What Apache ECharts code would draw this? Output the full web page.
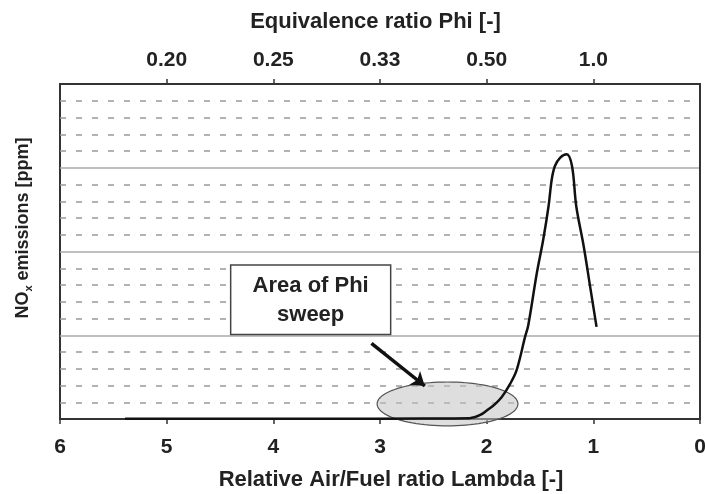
<!DOCTYPE html>
<html>
<head>
<meta charset="utf-8">
<script src="https://cdn.jsdelivr.net/npm/echarts@6/dist/echarts.min.js"></script>
<style>html,body{margin:0;padding:0;background:#fff}#c{width:705px;height:494px}</style>
</head>
<body>
<div id="c"></div>
<script>
// Data
const lambdaVals = [5.39, 4.5, 3.5, 2.6, 2.16, 2.06, 1.98, 1.93, 1.86, 1.78, 1.72, 1.64, 1.61, 1.53, 1.47, 1.42, 1.39, 1.36, 1.31, 1.25, 1.20, 1.16, 1.09, 1.03, 0.97];
const noxVals    = [0.02, 0.02, 0.02, 0.03, 0.05, 0.24, 0.6, 0.84, 1.3, 2.1, 2.9, 4.9, 5.6, 8.7, 10.7, 12.7, 14.3, 15.1, 15.6, 15.8, 15.1, 12.7, 10.3, 7.9, 5.5];
const lambdaTicks = [6, 5, 4, 3, 2, 1, 0];
const phiTickPos = [5, 4, 3, 2, 1];
const phiTickLabels = ['0.20', '0.25', '0.33', '0.50', '1.0'];
// Annotations (data units)
const sweepEllipse = [2.367, 0.9, 0.66, 1.31];      // center lambda, center y, radius lambda, radius y
const sweepArrow = [[3.08, 4.52], [2.58, 1.97]];
const noteBox = [4.40, 9.19, 2.90, 5.05];           // lambda left, y top, lambda right, y bottom
const noteText = 'Area of Phi\nsweep';

const FONT = 'Liberation Sans, Arial, sans-serif';
const chart = echarts.init(document.getElementById('c'));

const curve = lambdaVals.map((l, i) => [l, noxVals[i]]);

chart.setOption({
  animation: false,
  backgroundColor: '#fff',
  grid: { left: 60, right: 5, top: 84, bottom: 75, containLabel: false, outerBoundsMode: 'none',
          show: true, borderColor: '#333', borderWidth: 2, backgroundColor: 'transparent' },
  xAxis: [
    {
      type: 'value', position: 'bottom', min: 0, max: 6, interval: 1, inverse: true,
      name: 'Relative Air/Fuel ratio Lambda [-]', nameLocation: 'middle', nameGap: 61,
      nameTextStyle: { fontFamily: FONT, fontSize: 22, fontWeight: 'bold', color: '#222',
                       verticalAlign: 'middle', padding: [0, 0, 0, 22] },
      axisLine: { show: true, lineStyle: { color: '#333', width: 2 } },
      axisTick: { show: true, length: 5, lineStyle: { color: '#333', width: 1.5 } },
      axisLabel: { fontFamily: FONT, fontSize: 21, fontWeight: 'bold', color: '#222', margin: 28,
                   verticalAlign: 'middle', formatter: v => String(v) },
      splitLine: { show: false }
    },
    {
      type: 'value', position: 'top', min: 0, max: 6, interval: 1, inverse: true,
      name: 'Equivalence ratio Phi [-]', nameLocation: 'middle', nameGap: 62,
      nameTextStyle: { fontFamily: FONT, fontSize: 22, fontWeight: 'bold', color: '#222',
                       verticalAlign: 'middle', padding: [0, 9, 0, 0] },
      axisLine: { show: true, lineStyle: { color: '#333', width: 2 } },
      axisTick: { show: true, length: 5, customValues: phiTickPos, lineStyle: { color: '#333', width: 1.5 } },
      axisLabel: { fontFamily: FONT, fontSize: 21, fontWeight: 'bold', color: '#222', margin: 24,
                   verticalAlign: 'middle', customValues: phiTickPos,
                   formatter: v => { const i = phiTickPos.indexOf(v); return i >= 0 ? phiTickLabels[i] : ''; } },
      splitLine: { show: false }
    }
  ],
  yAxis: {
    type: 'value', min: 0, max: 20, interval: 5,
    axisLine: { show: true, lineStyle: { color: '#333', width: 2 } },
    axisTick: { show: false },
    axisLabel: { show: false },
    splitLine: { show: true, lineStyle: { color: '#aaa', width: 1.5, type: 'solid' } },
    minorTick: { show: false, splitNumber: 5 },
    minorSplitLine: { show: true, lineStyle: { color: '#999', width: 1.5, type: [6, 10] } }
  },
  graphic: [{
    type: 'text', x: 23, y: 228, rotation: Math.PI / 2, z: 10,
    style: {
      text: '{a|NO}{b|x}{a| emissions [ppm]}',
      align: 'center', verticalAlign: 'middle',
      rich: {
        a: { fontFamily: FONT, fontSize: 18, fontWeight: 'bold', fill: '#222', lineHeight: 22 },
        b: { fontFamily: FONT, fontSize: 11, fontWeight: 'bold', fill: '#222', lineHeight: 11, verticalAlign: 'bottom' }
      }
    }
  }],
  series: [
    {
      type: 'custom', name: 'sweep', xAxisIndex: 0, yAxisIndex: 0, z: 3, clip: false,
      data: [sweepEllipse],
      renderItem: (params, api) => {
        const c = api.coord([api.value(0), api.value(1)]);
        const rx = Math.abs(api.size([api.value(2), 0])[0]);
        const ry = Math.abs(api.size([0, api.value(3)])[1]);
        const pts = [];
        for (let k = 0; k < 96; k++) {
          const t = k / 96 * Math.PI * 2;
          pts.push([c[0] + rx * Math.cos(t), c[1] + ry * Math.sin(t)]);
        }
        return { type: 'polygon', shape: { points: pts },
                 style: { fill: 'rgba(195,195,195,0.55)', stroke: '#555', lineWidth: 1.2 } };
      }
    },
    {
      type: 'line', name: 'NOx', xAxisIndex: 0, yAxisIndex: 0, z: 5,
      data: curve, showSymbol: false, smooth: 0.35,
      lineStyle: { color: '#111', width: 2.5 }
    },
    {
      type: 'lines', coordinateSystem: 'cartesian2d', xAxisIndex: 0, yAxisIndex: 0, z: 6,
      data: [{ coords: sweepArrow }],
      symbol: ['none', 'arrow'], symbolSize: 13,
      lineStyle: { color: '#111', width: 3.5, opacity: 1 }
    },
    {
      type: 'custom', name: 'note', xAxisIndex: 0, yAxisIndex: 0, z: 7, clip: false,
      data: [noteBox],
      renderItem: (params, api) => {
        const p1 = api.coord([api.value(0), api.value(1)]);
        const p2 = api.coord([api.value(2), api.value(3)]);
        const x = Math.min(p1[0], p2[0]), y = Math.min(p1[1], p2[1]);
        const w = Math.abs(p2[0] - p1[0]), h = Math.abs(p2[1] - p1[1]);
        return {
          type: 'group',
          children: [
            { type: 'rect', shape: { x, y, width: w, height: h },
              style: { fill: '#fff', stroke: '#444', lineWidth: 1.5 } },
            { type: 'text', x: x + w / 2, y: y + h / 2 + 1,
              style: { text: noteText, align: 'center', verticalAlign: 'middle',
                       fontFamily: FONT, fontSize: 22, fontWeight: 'bold', fill: '#222', lineHeight: 29 } }
          ]
        };
      }
    }
  ]
});
</script>
</body>
</html>
